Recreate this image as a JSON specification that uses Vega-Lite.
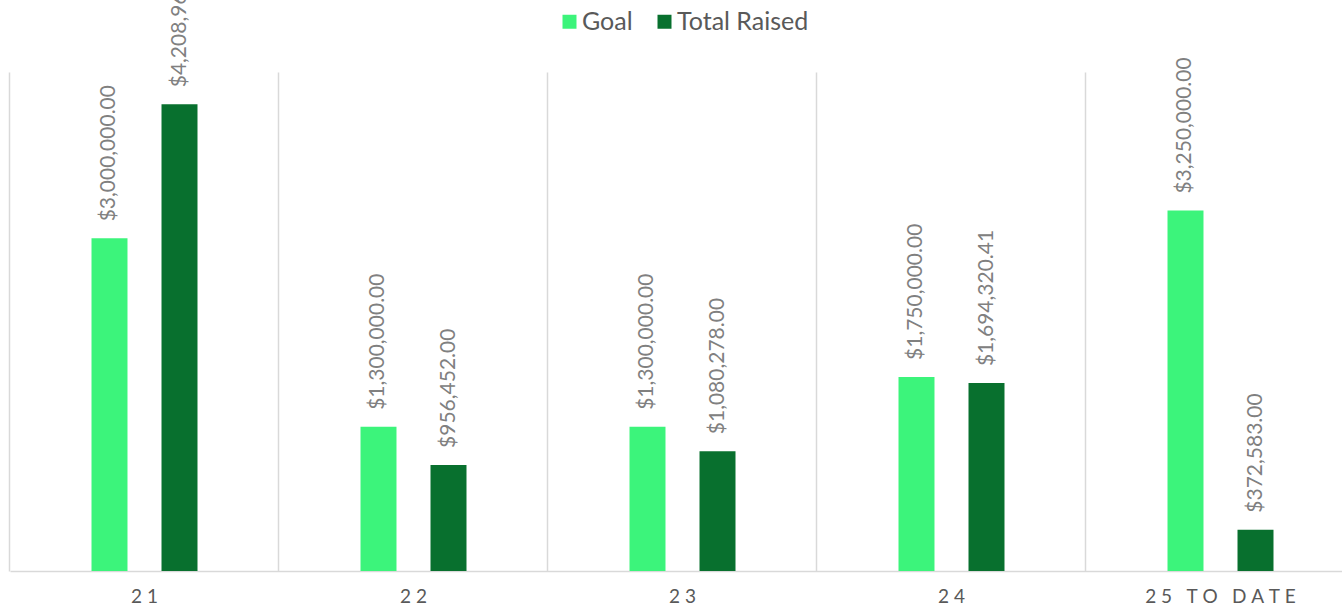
{
  "$schema": "https://vega.github.io/schema/vega-lite/v6.json",
  "autosize": {"type": "none"},
  "padding": {"left": 10, "top": 72, "right": 0, "bottom": 38},
  "width": 1332,
  "height": 499,
  "background": "white",
  "config": {"view": {"stroke": null}, "font": "Lato"},
  "data": {
    "values": [
      {"year": "21", "series": "Goal", "value": 3000000},
      {"year": "21", "series": "Total Raised", "value": 4208960},
      {"year": "22", "series": "Goal", "value": 1300000},
      {"year": "22", "series": "Total Raised", "value": 956452},
      {"year": "23", "series": "Goal", "value": 1300000},
      {"year": "23", "series": "Total Raised", "value": 1080278},
      {"year": "24", "series": "Goal", "value": 1750000},
      {"year": "24", "series": "Total Raised", "value": 1694320.41},
      {"year": "25 TO DATE", "series": "Goal", "value": 3250000},
      {"year": "25 TO DATE", "series": "Total Raised", "value": 372583}
    ]
  },
  "encoding": {
    "x": {
      "field": "year",
      "type": "nominal",
      "sort": null,
      "scale": {"range": [0, 1345], "paddingInner": 0.0855, "paddingOuter": 0.04275},
      "axis": {
        "title": null,
        "labelAngle": 0,
        "bandPosition": -0.04675,
        "grid": true,
        "gridColor": "#d9d9d9",
        "gridWidth": 1.5,
        "ticks": false,
        "domainColor": "#d9d9d9",
        "domainWidth": 1.5,
        "labelFont": "Lato",
        "labelFontSize": 19,
        "labelColor": "#595959",
        "labelPadding": 16,
        "labelExpr": "join(split(datum.label, ''), '\u2005')"
      }
    },
    "xOffset": {
      "field": "series",
      "type": "nominal",
      "scale": {"paddingInner": 0.486, "paddingOuter": 1}
    },
    "y": {
      "field": "value",
      "type": "quantitative",
      "scale": {"domain": [0, 4500000], "nice": false},
      "axis": null
    }
  },
  "layer": [
    {
      "mark": {"type": "bar"},
      "encoding": {
        "color": {
          "field": "series",
          "type": "nominal",
          "scale": {"domain": ["Goal", "Total Raised"], "range": ["#3cf47b", "#08702e"]},
          "legend": {
            "title": null,
            "orient": "none",
            "direction": "horizontal",
            "legendX": 547,
            "legendY": -63,
            "symbolType": "square",
            "symbolSize": 196,
            "symbolStrokeWidth": 0,
            "labelFont": "Lato",
            "labelFontSize": 25,
            "labelColor": "#595959",
            "labelOffset": 0,
            "columnPadding": 19
          }
        }
      }
    },
    {
      "mark": {
        "type": "text",
        "angle": 270,
        "align": "left",
        "baseline": "middle",
        "dx": 17,
        "font": "Lato",
        "fontSize": 21,
        "color": "#808080"
      },
      "encoding": {
        "text": {"field": "value", "type": "quantitative", "format": "$,.2f"}
      }
    }
  ]
}
